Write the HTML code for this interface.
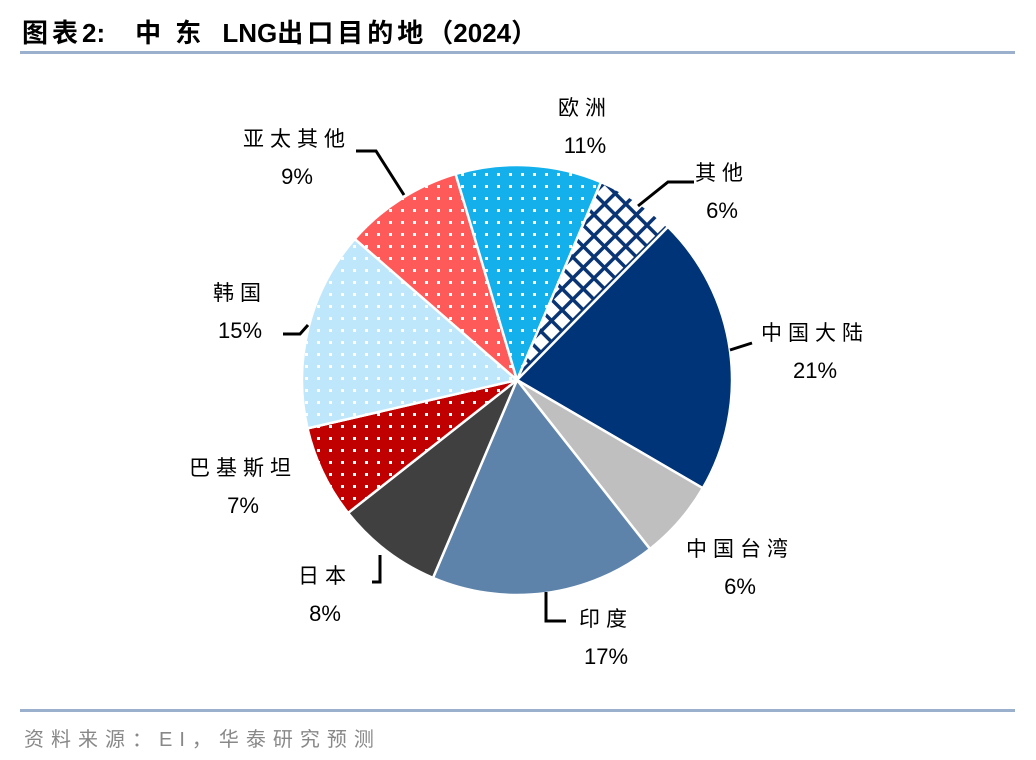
<!DOCTYPE html>
<html><head><meta charset="utf-8"><style>
body{margin:0;background:#fff;width:1036px;height:760px;overflow:hidden;font-family:"Liberation Sans","Noto Sans CJK SC",sans-serif}
.t{position:absolute;left:22px;top:13px;font-size:26px;font-weight:bold;color:#000;white-space:nowrap}
.t .c{letter-spacing:4px}
.rule{position:absolute;left:20px;width:995px;height:3px;background:#9bb0cc}
.src{position:absolute;left:24px;top:723px;font-size:20px;color:#888;letter-spacing:7px;white-space:nowrap}
</style></head><body>
<div class="t"><span class="c">图表</span>2:<span style="display:inline-block;width:30px"></span><span style="letter-spacing:14px">中东</span>&nbsp;LNG<span class="c">出口目的地</span>（2024）</div>
<div class="rule" style="top:51px"></div>
<div class="rule" style="top:709px"></div>
<div class="src">资料来源：EI，华泰研究预测</div>
<svg id="c" width="1036" height="760" style="position:absolute;left:0;top:0">
<defs>
<pattern id="dr" width="12" height="12" patternUnits="userSpaceOnUse"><rect width="12" height="12" fill="#ff5a5a"/><rect x="5" y="5" width="3" height="3" fill="#fff"/></pattern>
<pattern id="db" width="12" height="12" patternUnits="userSpaceOnUse"><rect width="12" height="12" fill="#13b0ec"/><rect x="5" y="5" width="3" height="3" fill="#fff"/></pattern>
<pattern id="dl" width="12" height="12" patternUnits="userSpaceOnUse"><rect width="12" height="12" fill="#bfe7fb"/><rect x="5" y="5" width="3" height="3" fill="#fff"/></pattern>
<pattern id="dd" width="12" height="12" patternUnits="userSpaceOnUse"><rect width="12" height="12" fill="#c00000"/><rect x="5" y="5" width="3" height="3" fill="#fff"/></pattern>
<pattern id="gx" width="15" height="15" patternUnits="userSpaceOnUse" patternTransform="rotate(45)"><rect width="15" height="15" fill="#fff"/><rect width="15" height="3.5" fill="#0a3574"/><rect width="3.5" height="15" fill="#0a3574"/></pattern>
</defs>
</svg>
<script>
const categories=["其他","中国大陆","中国台湾","印度","日本","巴基斯坦","韩国","亚太其他","欧洲"];
const values=[6,21,6,17,8,7,15,9,11];
const labels=["6%","21%","6%","17%","8%","7%","15%","9%","11%"];
const fills=["url(#gx)","#003478","#bfbfbf","#5e83ab","#404040","url(#dd)","url(#dl)","url(#dr)","url(#db)"];
const names=["other","mainland-china","taiwan","india","japan","pakistan","korea","other-apac","europe"];
const cx=517,cy=380,R=215,start=23;
const svg=document.getElementById('c'),NS="http://www.w3.org/2000/svg";
const total=values.reduce((a,b)=>a+b,0);
function pt(deg,r){const a=(deg-90)*Math.PI/180;return [cx+r*Math.cos(a),cy+r*Math.sin(a)];}
const lab=[
 {line:[[694,182],[668,182],[638,206]]},
 {line:[[752,343],[730,350]]},
 null,
 {line:[[566,621],[546,621],[546,592]]},
 {line:[[372,582],[380,582],[380,555]]},
 null,
 {line:[[283,334],[300,334],[308,325]]},
 {line:[[356,151],[376,151],[404,195]]},
 null];
const tpos=[[722,180],[815,340],[740,556],[606,626],[325,583],[243,475],[240,300],[297,146],[585,115]];
let acc=start;
values.forEach((v,i)=>{
 const a0=acc,a1=acc+v/total*360;acc=a1;
 const p0=pt(a0,R),p1=pt(a1,R),lg=(a1-a0)>180?1:0;
 const p=document.createElementNS(NS,'path');
 p.setAttribute('d',`M${cx},${cy}L${p0[0]},${p0[1]}A${R},${R} 0 ${lg} 1 ${p1[0]},${p1[1]}Z`);
 p.setAttribute('fill',fills[i]);p.setAttribute('stroke','#fff');p.setAttribute('stroke-width','2.5');
 
 
 svg.appendChild(p);
 if(lab[i]){const l=document.createElementNS(NS,'polyline');
  l.setAttribute('points',lab[i].line.map(q=>q.join(',')).join(' '));
  l.setAttribute('fill','none');l.setAttribute('stroke','#000');l.setAttribute('stroke-width','3');
  
  
  svg.appendChild(l);}
 const [tx,ty]=tpos[i];
 [categories[i],labels[i]].forEach((s,k)=>{
  const t=document.createElementNS(NS,'text');
  t.setAttribute('x',tx);t.setAttribute('y',ty+k*38);t.setAttribute('text-anchor','middle');
  t.setAttribute('font-size',k?'22':'21');t.setAttribute('letter-spacing',k?'0':'6');
  t.setAttribute('font-family','"Liberation Sans","Noto Sans CJK SC",sans-serif');
  t.textContent=s;
  
  
  svg.appendChild(t);});
});
</script>
</body></html>
